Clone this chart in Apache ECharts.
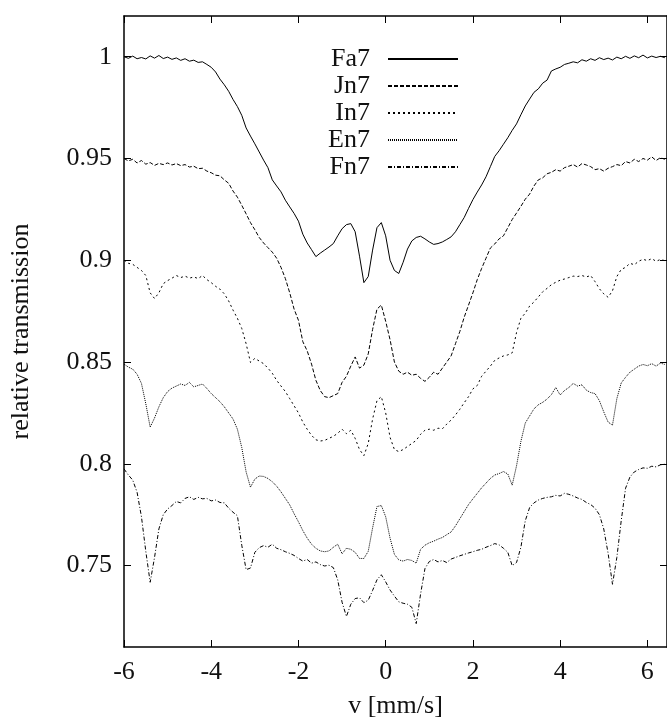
<!DOCTYPE html>
<html>
<head>
<meta charset="utf-8">
<script src="https://cdn.jsdelivr.net/npm/echarts@6/dist/echarts.min.js"></script>
<style>
  html, body { margin: 0; padding: 0; background: #fff; }
  #chart { width: 667px; height: 724px; }
</style>
</head>
<body>
<div id="chart"></div>
<script>
// Mössbauer spectra: relative transmission vs source velocity (mm/s)
const velocity = [
  -6.0,-5.9,-5.8,-5.7,-5.6,-5.5,-5.4,-5.3,-5.2,-5.1,
  -5.0,-4.9,-4.8,-4.7,-4.6,-4.5,-4.4,-4.3,-4.2,-4.1,
  -4.0,-3.9,-3.8,-3.7,-3.6,-3.5,-3.4,-3.3,-3.2,-3.1,
  -3.0,-2.9,-2.8,-2.7,-2.6,-2.5,-2.4,-2.3,-2.2,-2.1,
  -2.0,-1.9,-1.8,-1.7,-1.6,-1.5,-1.4,-1.3,-1.2,-1.1,
  -1.0,-0.9,-0.8,-0.7,-0.6,-0.5,-0.4,-0.3,-0.2,-0.1,
   0.0, 0.1, 0.2, 0.3, 0.4, 0.5, 0.6, 0.7, 0.8, 0.9,
   1.0, 1.1, 1.2, 1.3, 1.4, 1.5, 1.6, 1.7, 1.8, 1.9,
   2.0, 2.1, 2.2, 2.3, 2.4, 2.5, 2.6, 2.7, 2.8, 2.9,
   3.0, 3.1, 3.2, 3.3, 3.4, 3.5, 3.6, 3.7, 3.8, 3.9,
   4.0, 4.1, 4.2, 4.3, 4.4, 4.5, 4.6, 4.7, 4.8, 4.9,
   5.0, 5.1, 5.2, 5.3, 5.4, 5.5, 5.6, 5.7, 5.8, 5.9,
   6.0, 6.1, 6.2, 6.3, 6.4
];

const fa7 = [
  1.0000,0.9992,1.0003,0.9990,0.9996,0.9989,1.0004,0.9993,1.0006,0.9991,
  0.9998,0.9987,0.9994,0.9982,0.9990,0.9978,0.9983,0.9972,0.9975,0.9962,
  0.9948,0.9925,0.9890,0.9862,0.9830,0.9790,0.9755,0.9712,0.9650,0.9610,
  0.9572,0.9532,0.9492,0.9455,0.9395,0.9365,0.9336,0.9295,0.9262,0.9230,
  0.9192,0.9128,0.9085,0.9052,0.9018,0.9035,0.9050,0.9065,0.9082,0.9120,
  0.9155,0.9175,0.9180,0.9140,0.9020,0.8890,0.8920,0.9050,0.9160,0.9185,
  0.9120,0.9000,0.8950,0.8935,0.8990,0.9055,0.9095,0.9112,0.9118,0.9105,
  0.9090,0.9078,0.9082,0.9090,0.9102,0.9115,0.9140,0.9175,0.9210,0.9255,
  0.9298,0.9335,0.9370,0.9410,0.9460,0.9510,0.9538,0.9570,0.9602,0.9638,
  0.9670,0.9715,0.9758,0.9792,0.9825,0.9842,0.9870,0.9885,0.9930,0.9940,
  0.9948,0.9962,0.9968,0.9975,0.9970,0.9985,0.9978,0.9990,0.9982,0.9995,
  0.9986,0.9993,0.9984,0.9998,0.9990,1.0002,0.9992,1.0004,0.9995,1.0008,
  0.9994,1.0003,0.9996,1.0002,0.9995
];

const jn7 = [
  0.9500,0.9488,0.9496,0.9478,0.9490,0.9472,0.9480,0.9466,0.9476,0.9470,
  0.9478,0.9468,0.9475,0.9465,0.9470,0.9458,0.9462,0.9450,0.9452,0.9438,
  0.9430,0.9418,0.9415,0.9395,0.9378,0.9340,0.9310,0.9270,0.9228,0.9185,
  0.9150,0.9112,0.9085,0.9062,0.9040,0.9010,0.8965,0.8910,0.8840,0.8760,
  0.8705,0.8600,0.8555,0.8490,0.8410,0.8360,0.8330,0.8325,0.8335,0.8345,
  0.8400,0.8430,0.8480,0.8525,0.8470,0.8485,0.8540,0.8660,0.8760,0.8780,
  0.8700,0.8610,0.8500,0.8455,0.8440,0.8450,0.8435,0.8440,0.8420,0.8405,
  0.8425,0.8450,0.8440,0.8470,0.8500,0.8530,0.8590,0.8650,0.8720,0.8780,
  0.8840,0.8905,0.8960,0.9010,0.9060,0.9080,0.9105,0.9120,0.9160,0.9200,
  0.9232,0.9265,0.9300,0.9325,0.9365,0.9395,0.9405,0.9425,0.9432,0.9445,
  0.9438,0.9455,0.9462,0.9470,0.9458,0.9475,0.9468,0.9460,0.9445,0.9450,
  0.9438,0.9452,0.9460,0.9470,0.9465,0.9485,0.9478,0.9496,0.9485,0.9500,
  0.9492,0.9508,0.9490,0.9504,0.9496
];

const in7 = [
  0.9000,0.8985,0.8980,0.8965,0.8950,0.8925,0.8840,0.8812,0.8840,0.8885,
  0.8900,0.8912,0.8925,0.8915,0.8922,0.8912,0.8918,0.8910,0.8925,0.8905,
  0.8890,0.8872,0.8858,0.8835,0.8800,0.8755,0.8715,0.8665,0.8590,0.8498,
  0.8518,0.8505,0.8492,0.8470,0.8445,0.8410,0.8382,0.8355,0.8320,0.8285,
  0.8250,0.8205,0.8170,0.8140,0.8118,0.8112,0.8115,0.8125,0.8135,0.8150,
  0.8170,0.8148,0.8165,0.8125,0.8070,0.8040,0.8100,0.8220,0.8310,0.8330,
  0.8250,0.8130,0.8070,0.8060,0.8070,0.8085,0.8100,0.8115,0.8145,0.8165,
  0.8170,0.8165,0.8175,0.8172,0.8195,0.8215,0.8240,0.8268,0.8300,0.8330,
  0.8368,0.8385,0.8430,0.8455,0.8480,0.8508,0.8520,0.8530,0.8535,0.8545,
  0.8645,0.8715,0.8740,0.8775,0.8795,0.8820,0.8845,0.8862,0.8880,0.8892,
  0.8902,0.8908,0.8915,0.8922,0.8920,0.8925,0.8918,0.8925,0.8895,0.8860,
  0.8835,0.8818,0.8850,0.8920,0.8955,0.8965,0.8985,0.8978,0.8995,0.9005,
  0.8998,0.9008,0.8995,0.9004,0.8998
];

const en7 = [
  0.8490,0.8475,0.8465,0.8440,0.8395,0.8295,0.8180,0.8225,0.8280,0.8325,
  0.8355,0.8372,0.8382,0.8392,0.8385,0.8400,0.8378,0.8385,0.8392,0.8370,
  0.8345,0.8325,0.8305,0.8280,0.8250,0.8220,0.8170,0.8080,0.7960,0.7885,
  0.7925,0.7940,0.7938,0.7928,0.7912,0.7890,0.7862,0.7830,0.7798,0.7755,
  0.7715,0.7672,0.7635,0.7605,0.7585,0.7572,0.7568,0.7572,0.7590,0.7605,
  0.7558,0.7585,0.7580,0.7565,0.7535,0.7535,0.7570,0.7685,0.7790,0.7795,
  0.7740,0.7635,0.7555,0.7528,0.7522,0.7530,0.7525,0.7512,0.7580,0.7600,
  0.7612,0.7620,0.7630,0.7638,0.7652,0.7665,0.7695,0.7730,0.7765,0.7800,
  0.7828,0.7855,0.7882,0.7905,0.7928,0.7945,0.7952,0.7962,0.7950,0.7895,
  0.7990,0.8110,0.8200,0.8235,0.8270,0.8290,0.8302,0.8318,0.8340,0.8375,
  0.8338,0.8360,0.8375,0.8395,0.8382,0.8388,0.8362,0.8350,0.8345,0.8310,
  0.8255,0.8205,0.8190,0.8320,0.8397,0.8425,0.8450,0.8465,0.8480,0.8488,
  0.8482,0.8492,0.8480,0.8495,0.8488
];

const fn7 = [
  0.7975,0.7945,0.7920,0.7860,0.7740,0.7570,0.7418,0.7540,0.7680,0.7750,
  0.7778,0.7795,0.7815,0.7808,0.7830,0.7838,0.7825,0.7835,0.7828,0.7830,
  0.7818,0.7822,0.7810,0.7808,0.7782,0.7762,0.7745,0.7600,0.7480,0.7488,
  0.7565,0.7588,0.7598,0.7590,0.7605,0.7585,0.7578,0.7568,0.7560,0.7550,
  0.7535,0.7522,0.7530,0.7512,0.7518,0.7505,0.7498,0.7502,0.7490,0.7430,
  0.7320,0.7250,0.7310,0.7338,0.7342,0.7318,0.7330,0.7378,0.7430,0.7455,
  0.7420,0.7380,0.7350,0.7322,0.7315,0.7310,0.7295,0.7215,0.7360,0.7485,
  0.7520,0.7530,0.7518,0.7525,0.7515,0.7532,0.7540,0.7548,0.7555,0.7562,
  0.7568,0.7575,0.7580,0.7590,0.7598,0.7608,0.7602,0.7585,0.7565,0.7500,
  0.7515,0.7590,0.7720,0.7785,0.7808,0.7822,0.7830,0.7835,0.7838,0.7845,
  0.7842,0.7855,0.7850,0.7842,0.7832,0.7825,0.7810,0.7800,0.7782,0.7750,
  0.7680,0.7560,0.7408,0.7540,0.7720,0.7880,0.7935,0.7960,0.7972,0.7980,
  0.7978,0.7988,0.7985,0.7995,0.7998
];

const seriesNames = ['Fa7', 'Jn7', 'In7', 'En7', 'Fn7'];
const seriesValues = [fa7, jn7, in7, en7, fn7];
const dashStyles = ['solid', [4, 2], [2, 3], [1, 1], [4, 2, 1, 2]];

const yTicks = [0.75, 0.8, 0.85, 0.9, 0.95, 1];
const xTicks = [-6, -4, -2, 0, 2, 4, 6];

const FONT = 'Liberation Serif';
const INK = '#111';

const chart = echarts.init(document.getElementById('chart'), null, { renderer: 'canvas' });

const baseX = {
  type: 'value', min: -6, max: 6.45, interval: 2,
  splitLine: { show: false },
  axisLine: { show: true, onZero: false, lineStyle: { color: '#000', width: 1.5 } },
  axisTick: { show: true, inside: true, length: 7, customValues: xTicks, lineStyle: { color: '#000', width: 1 } }
};
const baseY = {
  type: 'value', min: 0.71, max: 1.02,
  splitLine: { show: false },
  axisLine: { show: true, onZero: false, lineStyle: { color: '#000', width: 1.5 } },
  axisTick: { show: true, inside: true, length: 7, customValues: yTicks, lineStyle: { color: '#000', width: 1 } }
};

chart.setOption({
  animation: false,
  backgroundColor: '#fff',
  grid: { left: 124, right: -4, top: 16, bottom: 72 },
  xAxis: [
    Object.assign({}, baseX, {
      position: 'bottom',
      axisLabel: {
        customValues: xTicks,
        fontFamily: FONT, fontSize: 26, color: INK, margin: 12,
        formatter: v => String(v)
      },
      name: 'v [mm/s]', nameLocation: 'middle', nameGap: 46,
      nameTextStyle: { fontFamily: FONT, fontSize: 26, color: INK }
    }),
    Object.assign({}, baseX, { position: 'top', axisLabel: { show: false } })
  ],
  yAxis: [
    Object.assign({}, baseY, {
      position: 'left',
      axisLabel: {
        customValues: yTicks,
        fontFamily: FONT, fontSize: 26, color: INK, margin: 12,
        formatter: v => String(+(+v).toFixed(2))
      },
      name: 'relative transmission', nameLocation: 'middle', nameGap: 90,
      nameTextStyle: { fontFamily: FONT, fontSize: 26, color: INK }
    }),
    Object.assign({}, baseY, { position: 'right', axisLabel: { show: false } })
  ],
  legend: seriesNames.map((name, i) => ({
    data: [name],
    orient: 'vertical',
    align: 'right',
    right: 203,
    top: 41 + 27 * i,
    itemWidth: 70,
    itemHeight: 12,
    selectedMode: false,
    itemStyle: { opacity: 0 },
    formatter: n => n + '  ',
    textStyle: { fontFamily: FONT, fontSize: 26, color: INK }
  })),
  series: seriesNames.map((name, i) => ({
    name,
    type: 'line',
    xAxisIndex: 0,
    yAxisIndex: 0,
    symbol: 'none',
    clip: true,
    data: velocity.map((v, k) => [v, seriesValues[i][k]]),
    lineStyle: { color: '#000', width: 1, type: dashStyles[i] },
    itemStyle: { color: '#000' }
  }))
});
</script>
</body>
</html>
